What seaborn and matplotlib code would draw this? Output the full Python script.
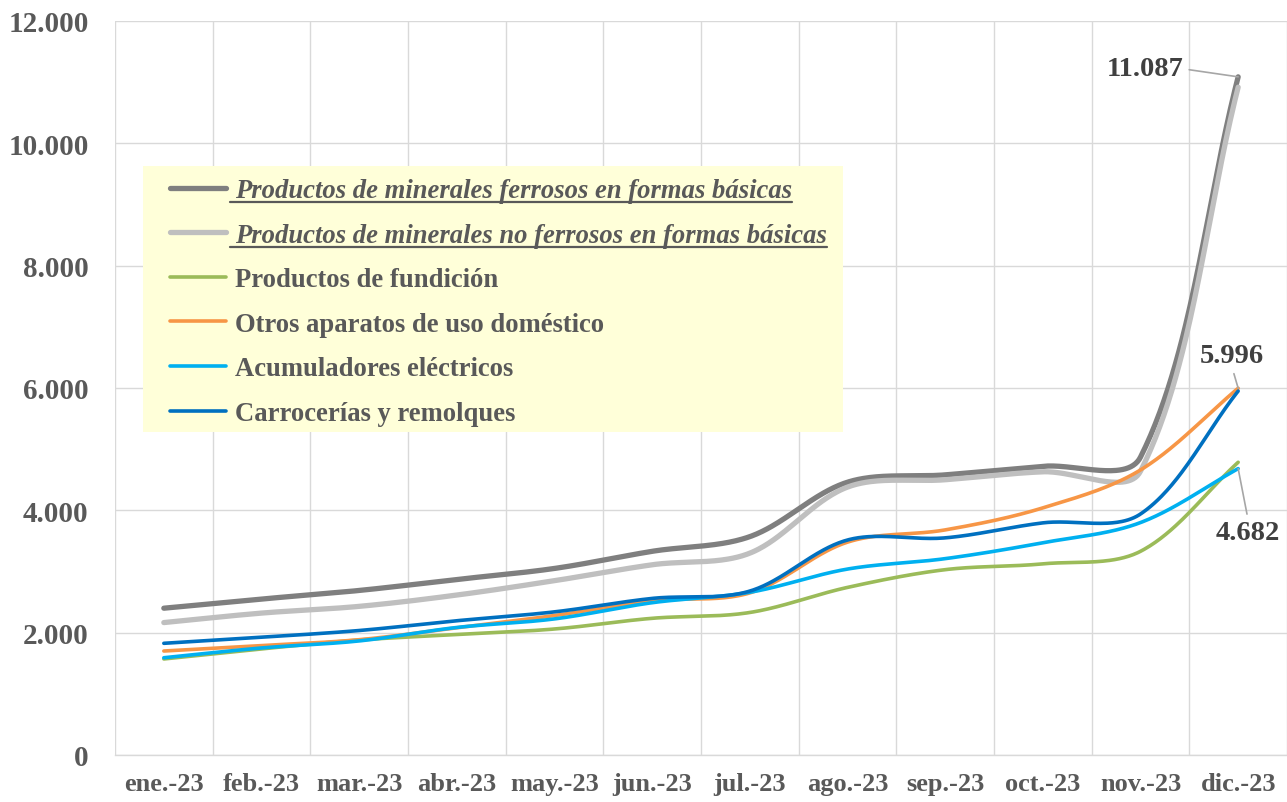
import numpy as np
import pandas as pd
import matplotlib
matplotlib.use("Agg")
import matplotlib.pyplot as plt
from matplotlib.lines import Line2D
from matplotlib.patches import Rectangle
import seaborn as sns

# ---------------- data ----------------
months = ['ene.-23', 'feb.-23', 'mar.-23', 'abr.-23', 'may.-23', 'jun.-23',
          'jul.-23', 'ago.-23', 'sep.-23', 'oct.-23', 'nov.-23', 'dic.-23']
ferrosos = [2400, 2550, 2690, 2870, 3050, 3330, 3570, 4460, 4580, 4720, 4870, 11087]
no_ferrosos = [2165, 2320, 2430, 2615, 2850, 3110, 3300, 4380, 4500, 4630, 4640, 10918]
fundicion = [1570, 1735, 1880, 1970, 2060, 2235, 2330, 2740, 3030, 3125, 3330, 4786]
domestico = [1700, 1790, 1885, 2080, 2280, 2520, 2650, 3480, 3680, 4040, 4660, 5996]
acumuladores = [1590, 1750, 1865, 2085, 2225, 2490, 2660, 3040, 3210, 3470, 3800, 4682]
carrocerias = [1826, 1925, 2035, 2195, 2340, 2560, 2680, 3515, 3550, 3795, 3940, 5950]

series_names = ['Productos de minerales ferrosos en formas básicas',
                'Productos de minerales no ferrosos en formas básicas',
                'Productos de fundición',
                'Otros aparatos de uso doméstico',
                'Acumuladores eléctricos',
                'Carrocerías y remolques']
series_values = [ferrosos, no_ferrosos, fundicion, domestico, acumuladores, carrocerias]
colors = ['#7F7F7F', '#BFBFBF', '#9BBB59', '#F79646', '#00B0F0', '#0070C0']
widths = [3.8, 3.8, 2.6, 2.6, 2.6, 2.6]

y_ticks = [0, 2000, 4000, 6000, 8000, 10000, 12000]
y_tick_labels = ['0', '2.000', '4.000', '6.000', '8.000', '10.000', '12.000']

# ---------------- style ----------------
sns.set_style("white")
plt.rcParams['font.family'] = ['Liberation Serif', 'DejaVu Serif']
plt.rcParams['font.weight'] = 'bold'

W, H = 1287, 803
fig = plt.figure(figsize=(W / 100, H / 100), dpi=100)
ax = fig.add_axes([115 / W, (H - 756) / H, (1287 - 115) / W, (756 - 22) / H])

x_idx = np.arange(len(months))
ax.set_xlim(-0.5, len(months) - 0.5)
ax.set_ylim(0, 12000)


def excel_smooth(ax, xs, ys, n=60):
    """Excel-like smoothed line: cubic Bezier segments, control points
    weighted by adjacent segment lengths in screen space."""
    P = ax.transData.transform(np.column_stack([xs, ys]))
    m = len(P)
    out = [P[0]]
    for i in range(m - 1):
        p0 = P[i - 1] if i > 0 else P[i]
        p1, p2 = P[i], P[i + 1]
        p3 = P[i + 2] if i + 2 < m else P[i + 1]
        d01 = np.linalg.norm(p1 - p0)
        d12 = np.linalg.norm(p2 - p1)
        d23 = np.linalg.norm(p3 - p2)
        f1 = d12 / (d01 + d12) if (d01 + d12) > 0 else 0.5
        f2 = d12 / (d12 + d23) if (d12 + d23) > 0 else 0.5
        c1 = p1 + (p2 - p0) * f1 / 3.0
        c2 = p2 - (p3 - p1) * f2 / 3.0
        t = np.linspace(0, 1, n)[1:, None]
        seg = ((1 - t) ** 3) * p1 + 3 * ((1 - t) ** 2) * t * c1 + 3 * (1 - t) * t ** 2 * c2 + t ** 3 * p2
        out.extend(seg)
    out = np.array(out)
    return ax.transData.inverted().transform(out)


# grid
ax.set_yticks(y_ticks)
ax.set_yticklabels(y_tick_labels)
ax.set_xticks(x_idx)
ax.set_xticklabels(months)
ax.set_xticks(np.arange(-0.5, len(months), 1.0), minor=True)
ax.grid(False)
ax.yaxis.grid(True, which='major', color='#D9D9D9', linewidth=1.0)
ax.xaxis.grid(True, which='minor', color='#D9D9D9', linewidth=1.0)
ax.set_axisbelow(True)
for s in ['top', 'right', 'left']:
    ax.spines[s].set_visible(False)
ax.spines['bottom'].set_color('#D9D9D9')
ax.spines['bottom'].set_linewidth(1.0)
ax.tick_params(axis='both', which='both', length=0)
ax.tick_params(axis='y', labelsize=21, labelcolor='#595959', pad=19)
ax.tick_params(axis='x', labelsize=19, labelcolor='#595959', pad=12)
for lab in ax.get_xticklabels() + ax.get_yticklabels():
    lab.set_fontweight('bold')

# lines (draw order: later ones on top)
order = [1, 0, 2, 3, 4, 5]
handles = {}
for i in order:
    curve = excel_smooth(ax, x_idx, series_values[i])
    df = pd.DataFrame({'x': curve[:, 0], 'y': curve[:, 1]})
    sns.lineplot(data=df, x='x', y='y', ax=ax, color=colors[i], linewidth=widths[i],
                 sort=False, estimator=None, solid_capstyle='round', zorder=2 + i * 0.1)
    handles[i] = Line2D([0], [0], color=colors[i], linewidth=widths[i], solid_capstyle='round')
ax.set_xlabel('')
ax.set_ylabel('')
ax.set_xlim(-0.5, len(months) - 0.5)
ax.set_ylim(0, 12000)

# data labels
lab_kw = dict(fontsize=20.5, fontweight='bold', color='#404040', textcoords='offset pixels',
              annotation_clip=False, zorder=6)
arrow_kw = dict(arrowstyle='-', color='#A6A6A6', lw=1.2, shrinkA=2, shrinkB=0)
last = len(months) - 1
ax.annotate(f"{ferrosos[-1]/1000:.3f}", xy=(last, ferrosos[-1]), xytext=(-55, 8),
            ha='right', va='center',
            arrowprops=dict(**arrow_kw, relpos=(1.0, 0.5)), **lab_kw)
ax.annotate(f"{domestico[-1]/1000:.3f}", xy=(last, domestico[-1]), xytext=(-6, 33),
            ha='center', va='center',
            arrowprops=dict(**arrow_kw, relpos=(0.5, 0.0)), **lab_kw)
ax.annotate(f"{acumuladores[-1]/1000:.3f}", xy=(last, acumuladores[-1]), xytext=(10, -64),
            ha='center', va='center',
            arrowprops=dict(**arrow_kw, relpos=(0.5, 1.0)), **lab_kw)

# legend background (inside the axes, above grid and lines, below legend)
bg = Rectangle((143 / W, 1 - 433 / H), (843 - 143) / W, (433 - 167) / H,
               transform=fig.transFigure, facecolor='#FFFFD9', edgecolor='none',
               zorder=3, clip_on=False)
ax.add_patch(bg)

leg = ax.legend([handles[i] for i in range(6)], series_names,
                loc='upper left', bbox_to_anchor=(170 / W, 1 - 179 / H),
                bbox_transform=fig.transFigure, frameon=False, borderpad=0,
                borderaxespad=0, handlelength=2.1, handletextpad=0.35,
                labelspacing=0.735, prop={'size': 19.2, 'weight': 'bold'})
leg.set_zorder(7)
for j, t in enumerate(leg.get_texts()):
    t.set_color('#595959')
    if j < 2:
        t.set_fontstyle('italic')

fig.canvas.draw()
renderer = fig.canvas.get_renderer()
for t in leg.get_texts()[:2]:
    bb = t.get_window_extent(renderer)
    yy = bb.y0 + 1
    fig.add_artist(Line2D([(bb.x0 - 5) / W, bb.x1 / W], [yy / H, yy / H],
                          transform=fig.transFigure, color='#595959', linewidth=1.6, zorder=8))

fig.savefig('out.png', dpi=100)
